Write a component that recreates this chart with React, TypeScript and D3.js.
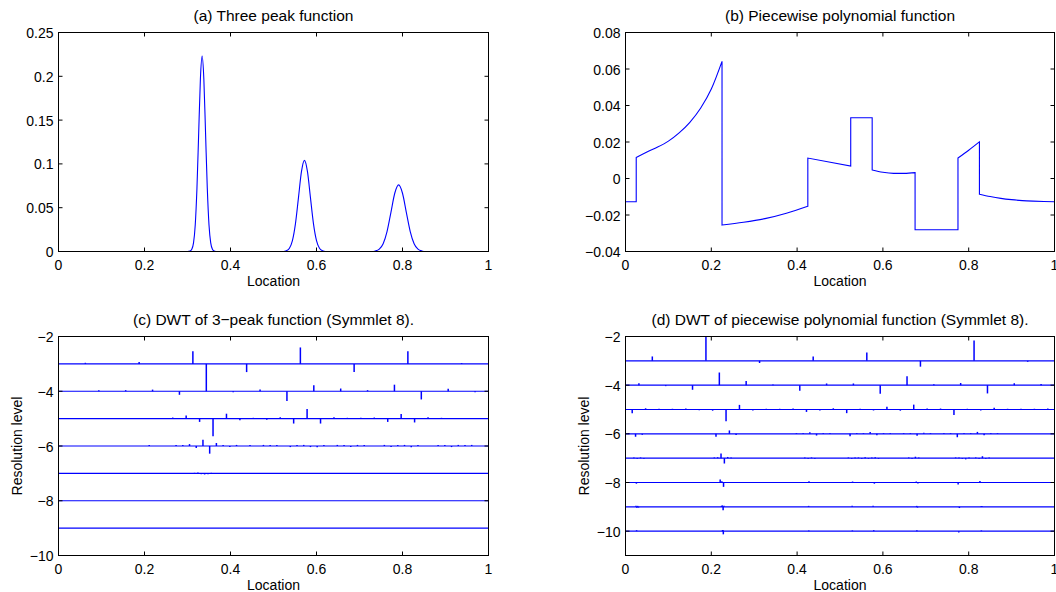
import React from 'react';
import * as d3 from 'd3';

// tick values
const xTicks = [0, 0.2, 0.4, 0.6, 0.8, 1];
const peakTicks = [0, 0.05, 0.1, 0.15, 0.2, 0.25];
const pieceTicks = [-0.04, -0.02, 0, 0.02, 0.04, 0.06, 0.08];
const levelTicks = [-10, -8, -6, -4, -2];

// (a) three peak function
const threePeak: [number, number][] = [
  [0, 0], [0.3, 0],
  [0.306, 0.0005], [0.31, 0.0025], [0.314, 0.0098], [0.318, 0.0302], [0.322, 0.0724],
  [0.326, 0.135], [0.33, 0.197], [0.334, 0.223], [0.338, 0.197], [0.342, 0.135],
  [0.346, 0.0724], [0.35, 0.0302], [0.354, 0.0098], [0.358, 0.0025], [0.362, 0.0005], [0.366, 0],
  [0.523, 0],
  [0.53, 0.0009], [0.537, 0.0038], [0.544, 0.0125], [0.551, 0.0316], [0.558, 0.0612],
  [0.565, 0.0911], [0.572, 0.104], [0.579, 0.0911], [0.586, 0.0612], [0.593, 0.0316],
  [0.6, 0.0125], [0.607, 0.0038], [0.614, 0.0009], [0.621, 0],
  [0.728, 0],
  [0.737, 0.0006], [0.746, 0.0027], [0.755, 0.0089], [0.764, 0.0228], [0.773, 0.0445],
  [0.782, 0.0665], [0.791, 0.076], [0.8, 0.0665], [0.809, 0.0445], [0.818, 0.0228],
  [0.827, 0.0089], [0.836, 0.0027], [0.845, 0.0006], [0.854, 0],
  [1, 0],
];

// (b) piecewise polynomial, one array per piece
const piece1: [number, number][] = [[0, -0.0127], [0.025, -0.0127]];
const piece2: [number, number][] = [[0.025, 0.0115], [0.05, 0.0145], [0.075, 0.0172], [0.1, 0.0205], [0.125, 0.025], [0.15, 0.0308], [0.175, 0.0385], [0.2, 0.049], [0.225, 0.0642]];
const piece3: [number, number][] = [[0.225, -0.0255], [0.275, -0.024], [0.325, -0.022], [0.375, -0.019], [0.425, -0.0152]];
const piece4: [number, number][] = [[0.425, 0.0112], [0.525, 0.0068]];
const piece5: [number, number][] = [[0.525, 0.0333], [0.575, 0.0333]];
const piece6: [number, number][] = [[0.575, 0.0047], [0.6, 0.0034], [0.625, 0.0028], [0.65, 0.0028], [0.675, 0.0032]];
const piece7: [number, number][] = [[0.675, -0.0281], [0.775, -0.0281]];
const piece8: [number, number][] = [[0.775, 0.0112], [0.8, 0.0155], [0.825, 0.0201]];
const piece9: [number, number][] = [[0.825, -0.0086], [0.85, -0.0099], [0.875, -0.0109], [0.9, -0.0116], [0.925, -0.0121], [0.95, -0.0124], [0.975, -0.0126], [1, -0.0127]];
const pieces = [piece1, piece2, piece3, piece4, piece5, piece6, piece7, piece8, piece9];

// (c) DWT of 3-peak, [index k, scaled coefficient] per level (only visible ones)
const peakL3 = [[0, 0.04], [1, 0.07], [2, 0.46], [3, -0.3], [4, 0.6], [5, -0.3], [6, 0.46], [7, 0.03]];
const peakL4 = [[1, 0.04], [2, 0.04], [3, 0.06], [4, -0.13], [5, 1.0], [6, -0.04], [7, 0.06], [8, -0.36], [9, 0.22], [10, 0.1], [11, 0.04], [12, 0.24], [13, -0.3], [14, 0.09], [15, -0.04]];
const peakL5 = [[8, 0.04], [9, 0.11], [10, -0.12], [11, -0.64], [12, 0.18], [13, -0.06], [14, 0.03], [15, -0.04], [16, 0.05], [17, -0.18], [18, 0.35], [19, -0.18], [20, 0.05], [21, 0.03], [22, 0.03], [23, 0.04], [24, -0.12], [25, 0.17], [26, -0.14], [27, 0.05], [28, 0.03]];
const peakL6 = [[13, 0.04], [17, 0.04], [18, 0.04], [19, 0.07], [20, -0.07], [21, 0.23], [22, -0.28], [23, 0.11], [24, 0.04], [25, -0.04], [26, 0.04], [28, 0.04], [30, 0.04], [31, 0.04], [32, 0.04], [34, -0.04], [35, 0.04], [36, 0.04], [37, -0.04], [38, -0.05], [39, 0.04], [41, 0.04], [42, 0.04], [43, -0.04], [44, 0.04], [45, 0.04], [48, 0.04], [49, -0.04], [50, 0.04], [51, 0.04], [52, -0.05], [53, 0.04], [56, 0.04], [57, 0.04], [58, -0.04], [59, 0.04], [60, 0.04], [61, 0.04]];
const peakL7 = [[40, 0.02], [41, 0.03], [42, -0.03], [43, -0.04], [44, -0.03], [45, 0.02]];
const peakL8: number[][] = [];
const peakL9: number[][] = [];

// (d) DWT of piecewise polynomial
const pieceL3 = [[0, 0.18], [1, 1.0], [2, -0.09], [3, 0.18], [4, 0.34], [5, -0.24], [6, 0.84], [7, -0.04]];
const pieceL4 = [[0, 0.08], [1, -0.04], [2, -0.19], [3, 0.52], [4, 0.17], [5, 0.03], [6, -0.23], [7, 0.07], [8, 0.07], [9, -0.35], [10, 0.37], [11, 0.04], [12, 0.09], [13, -0.34], [14, 0.08], [15, 0.05]];
const pieceL5 = [[0, -0.15], [1, 0.05], [2, 0.03], [3, 0.03], [4, 0.04], [5, -0.03], [6, -0.05], [7, -0.48], [8, 0.19], [9, -0.04], [10, 0.03], [11, 0.03], [12, 0.04], [13, -0.1], [14, -0.04], [15, 0.05], [16, -0.15], [17, 0.03], [18, -0.04], [19, 0.11], [20, -0.05], [21, 0.2], [22, 0.04], [23, 0.04], [24, -0.23], [25, 0.03], [26, -0.04], [27, 0.07], [28, 0.03], [29, 0.03], [30, 0.03], [31, 0.04]];
const pieceL6 = [[0, 0.03], [1, -0.12], [2, -0.04], [13, -0.12], [15, 0.14], [16, -0.05], [25, 0.03], [26, 0.03], [27, 0.07], [28, -0.07], [29, 0.03], [30, 0.03], [33, -0.1], [34, 0.03], [35, 0.03], [36, 0.08], [37, -0.06], [38, 0.03], [39, 0.03], [41, 0.03], [42, 0.03], [43, -0.08], [44, 0.04], [45, 0.03], [47, 0.03], [48, 0.03], [49, -0.14], [50, 0.03], [51, 0.03], [52, 0.08], [53, -0.06], [54, 0.03], [55, 0.03]];
const pieceL7 = [[2, 0.03], [3, -0.03], [4, 0.03], [5, -0.03], [26, 0.03], [27, 0.04], [28, 0.19], [29, -0.22], [30, 0.05], [31, 0.03], [53, 0.03], [54, -0.03], [55, 0.03], [56, -0.03], [66, 0.03], [67, -0.03], [68, 0.03], [69, 0.03], [70, -0.03], [71, 0.04], [72, -0.03], [73, 0.03], [74, 0.04], [75, -0.03], [84, 0.03], [85, -0.03], [86, 0.06], [87, 0.03], [98, 0.03], [99, 0.03], [100, -0.03], [101, -0.05], [102, 0.03], [104, 0.03], [105, -0.03], [106, 0.08], [107, -0.03], [108, 0.03]];
const pieceL8 = [[6, -0.05], [56, 0.12], [57, 0.05], [58, -0.18], [109, 0.05], [135, 0.04], [148, -0.05], [173, 0.04], [174, -0.04], [198, -0.08], [211, 0.06]];
const pieceL9 = [[12, 0.04], [13, -0.04], [14, 0.04], [15, -0.03], [114, 0.04], [115, 0.06], [116, -0.14], [117, 0.04], [218, 0.04], [270, 0.04], [295, 0.04], [347, 0.04], [348, -0.03], [398, -0.05], [424, 0.03], [425, 0.03]];
const pieceL10 = [[26, 0.04], [231, 0.04], [232, 0.05], [233, -0.13], [437, 0.03], [541, 0.03], [592, 0.04], [695, 0.04], [795, -0.05], [849, 0.03]];

const peakLevels = [peakL3, peakL4, peakL5, peakL6, peakL7, peakL8, peakL9].map((c, i) => ({ j: i + 3, coefs: c }));
const pieceLevels = [pieceL3, pieceL4, pieceL5, pieceL6, pieceL7, pieceL8, pieceL9, pieceL10].map((c, i) => ({ j: i + 3, coefs: c }));

const FONT = '"Liberation Sans", Arial, Helvetica, sans-serif';
const BLUE = '#0000ff';
const TICK = 4;

const fmt = (v: number) => String(v).replace('-', '\u2212');

function Axes({ left, top, width, height, yDomain, yTicks, title, ylabel, children }: any) {
  const x = d3.scaleLinear().domain([0, 1]).range([left, left + width]);
  const y = d3.scaleLinear().domain(yDomain).range([top + height, top]);
  const bottom = top + height;
  const right = left + width;
  return (
    <g fontFamily={FONT} fill="#000">
      {children(x, y)}
      <rect x={left} y={top} width={width} height={height} fill="none" stroke="#000" strokeWidth={1} />
      {xTicks.map(t => (
        <g key={'x' + t}>
          <line x1={x(t)} x2={x(t)} y1={bottom} y2={bottom - TICK} stroke="#000" />
          <line x1={x(t)} x2={x(t)} y1={top} y2={top + TICK} stroke="#000" />
          <text x={x(t)} y={bottom + 18} fontSize={14} textAnchor="middle">{fmt(t)}</text>
        </g>
      ))}
      {yTicks.map((t: number) => (
        <g key={'y' + t}>
          <line x1={left} x2={left + TICK} y1={y(t)} y2={y(t)} stroke="#000" />
          <line x1={right} x2={right - TICK} y1={y(t)} y2={y(t)} stroke="#000" />
          <text x={left - 5} y={y(t) + 5.5} fontSize={14} textAnchor="end">{fmt(t)}</text>
        </g>
      ))}
      <text x={left + width / 2} y={top - 11.5} fontSize={15.5} textAnchor="middle">{title}</text>
      <text x={left + width / 2} y={bottom + 34.5} fontSize={14} textAnchor="middle">Location</text>
      {ylabel && (
        <text transform={`translate(${left - 37},${top + height / 2}) rotate(-90)`} fontSize={14} textAnchor="middle">{ylabel}</text>
      )}
    </g>
  );
}

function Wavelet({ x, y, levels }: any) {
  return (
    <g>
      {levels.map(({ j, coefs }: any) => (
        <g key={j}>
          <line x1={x(0)} x2={x(1)} y1={y(-j)} y2={y(-j)} stroke={BLUE} strokeWidth={1.1} />
          {coefs.map(([k, v]: number[]) => {
            const loc = (k + 0.5) / Math.pow(2, j);
            return <line key={k} x1={x(loc)} x2={x(loc)} y1={y(-j)} y2={y(-j + v)} stroke={BLUE} strokeWidth={1.5} />;
          })}
        </g>
      ))}
    </g>
  );
}

export default function App() {
  const peakLine = (x: any, y: any) =>
    d3.line<[number, number]>().x(d => x(d[0])).y(d => y(d[1])).curve(d3.curveMonotoneX);

  return (
    <svg width={1056} height={592} style={{ position: 'absolute', left: 0, top: 0, background: '#fff' }}>
      <Axes left={58.5} top={32.5} width={430} height={219} yDomain={[0, 0.25]} yTicks={peakTicks} title="(a) Three peak function">
        {(x: any, y: any) => <path d={peakLine(x, y)(threePeak) || ''} fill="none" stroke={BLUE} strokeWidth={1.1} />}
      </Axes>
      <Axes left={625.5} top={32.5} width={429} height={219} yDomain={[-0.04, 0.08]} yTicks={pieceTicks} title="(b) Piecewise polynomial function">
        {(x: any, y: any) => {
          const gen = peakLine(x, y);
          const d = pieces.map((p, i) => {
            const s = gen(p) || '';
            return i === 0 ? s : 'L' + s.slice(1);
          }).join('');
          return <path d={d} fill="none" stroke={BLUE} strokeWidth={1.1} />;
        }}
      </Axes>
      <Axes left={58.5} top={336.5} width={430} height={219} yDomain={[-10, -2]} yTicks={levelTicks} title={'(c) DWT of 3\u2212peak function (Symmlet 8).'} ylabel="Resolution level">
        {(x: any, y: any) => <Wavelet x={x} y={y} levels={peakLevels} />}
      </Axes>
      <Axes left={625.5} top={336.5} width={429} height={219} yDomain={[-11, -2]} yTicks={levelTicks} title="(d) DWT of piecewise polynomial function (Symmlet 8)." ylabel="Resolution level">
        {(x: any, y: any) => <Wavelet x={x} y={y} levels={pieceLevels} />}
      </Axes>
    </svg>
  );
}
